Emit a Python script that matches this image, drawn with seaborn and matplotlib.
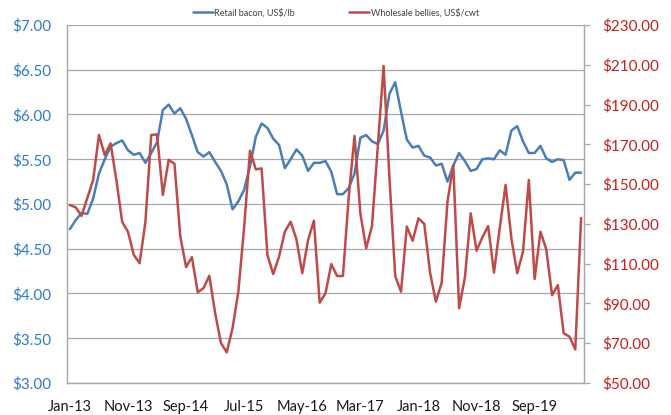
import matplotlib
matplotlib.use("Agg")
import matplotlib.pyplot as plt
from matplotlib.lines import Line2D
import seaborn as sns
import pandas as pd
import numpy as np

# monthly series, Jan-13 .. May-20
retail_bacon = [
    4.72, 4.82, 4.90, 4.89, 5.06, 5.34, 5.50, 5.64, 5.68, 5.71,
    5.60, 5.55, 5.57, 5.46, 5.57, 5.69, 6.05, 6.11, 6.01, 6.07,
    5.95, 5.77, 5.58, 5.53, 5.58, 5.47, 5.37, 5.22, 4.94, 5.03,
    5.16, 5.42, 5.75, 5.90, 5.85, 5.73, 5.66, 5.40, 5.50, 5.61,
    5.54, 5.37, 5.46, 5.46, 5.48, 5.36, 5.11, 5.11, 5.18, 5.34,
    5.74, 5.77, 5.70, 5.67, 5.82, 6.23, 6.36, 6.03, 5.72, 5.63,
    5.65, 5.54, 5.52, 5.43, 5.45, 5.25, 5.43, 5.57, 5.48, 5.37,
    5.39, 5.50, 5.51, 5.50, 5.60, 5.55, 5.82, 5.87, 5.70, 5.57,
    5.57, 5.65, 5.51, 5.47, 5.50, 5.49, 5.27, 5.35, 5.35,
]
wholesale_bellies = [
    139.5, 138.3, 134.0, 143.0, 152.0, 174.7, 164.6, 170.5, 152.0, 131.0,
    126.0, 114.4, 110.2, 131.0, 174.7, 175.0, 144.6, 162.2, 160.2, 123.7,
    108.3, 113.3, 95.6, 97.7, 103.9, 85.2, 70.1, 65.4, 77.6, 96.0,
    128.6, 166.8, 157.4, 157.9, 114.4, 104.8, 113.5, 126.1, 131.1, 122.2,
    105.2, 121.9, 131.6, 90.4, 95.1, 109.8, 103.8, 103.8, 143.7, 174.2,
    135.3, 117.7, 128.9, 168.8, 209.4, 153.7, 103.8, 95.9, 128.6, 121.5,
    132.8, 130.0, 105.5, 90.9, 100.4, 141.2, 159.6, 87.6, 103.1, 135.3,
    116.5, 123.2, 128.9, 105.5, 128.0, 149.6, 122.7, 105.2, 116.1, 152.1,
    102.3, 126.1, 117.3, 94.2, 99.2, 75.0, 73.3, 66.9, 133.0,
]
tick_labels = ["Jan-13", "Nov-13", "Sep-14", "Jul-15", "May-16",
               "Mar-17", "Jan-18", "Nov-18", "Sep-19"]
left_ticks = [3.0, 3.5, 4.0, 4.5, 5.0, 5.5, 6.0, 6.5, 7.0]
right_ticks = [50, 70, 90, 110, 130, 150, 170, 190, 210, 230]

BLUE = "#4a7ebb"
RED = "#be4b48"
LEFT_TXT = "#2f78d2"
RIGHT_TXT = "#c81e1e"
GRID = "#a9a9a9"

sns.set_style("white")
plt.rcParams["font.family"] = ["Lato", "DejaVu Sans"]

df = pd.DataFrame({
    "month": np.arange(len(retail_bacon)),
    "bacon": retail_bacon,
    "bellies": wholesale_bellies,
})

fig = plt.figure(figsize=(6.71, 4.15), dpi=100)
ax = fig.add_axes([67 / 671, 1 - 383 / 415, (584 - 67) / 671, (383 - 25) / 415])
ax2 = ax.twinx()

sns.lineplot(data=df, x="month", y="bacon", ax=ax, color=BLUE, lw=1.8, legend=False)
sns.lineplot(data=df, x="month", y="bellies", ax=ax2, color=RED, lw=1.8, legend=False)

ax.set_xlim(-0.5, len(retail_bacon) - 0.5)
ax.set_ylim(3.0, 7.0)
ax2.set_ylim(50, 230)

ax.set_yticks(left_ticks)
ax.set_yticklabels([f"${v:.2f}" for v in left_ticks], color=LEFT_TXT, fontsize=11)
ax2.set_yticks(right_ticks)
ax2.set_yticklabels([f"${v:.2f}" for v in right_ticks], color=RIGHT_TXT, fontsize=11)
ax.set_xticks(np.arange(0, 81, 10))
ax.set_xticklabels(tick_labels, fontsize=10.5, color="#1a1a1a")

ax.set_xlabel("")
ax.set_ylabel("")
ax2.set_ylabel("")

ax.grid(axis="y", color=GRID, lw=0.9)
ax.tick_params(axis="y", length=0, pad=11)
ax.tick_params(axis="x", length=0, pad=12)
ax2.tick_params(axis="y", length=4, width=0.9, color=GRID, pad=9, direction="out")
ax2.grid(False)

for a in (ax, ax2):
    for side in ("left", "bottom", "right"):
        a.spines[side].set_color(GRID)
        a.spines[side].set_linewidth(0.9)
    a.spines["top"].set_visible(False)

handles = [Line2D([], [], color=BLUE, lw=1.8), Line2D([], [], color=RED, lw=1.8)]
fig.legend(handles, ["Retail bacon, US$/lb", "Wholesale bellies, US$/cwt"],
           loc="center", bbox_to_anchor=(336 / 671, 1 - 13 / 415), ncol=2,
           frameon=False, fontsize=6.5, handlelength=2.2, handletextpad=0.15,
           columnspacing=6.0, labelcolor="#404040")

fig.savefig("out.png", dpi=100)
plt.close(fig)
